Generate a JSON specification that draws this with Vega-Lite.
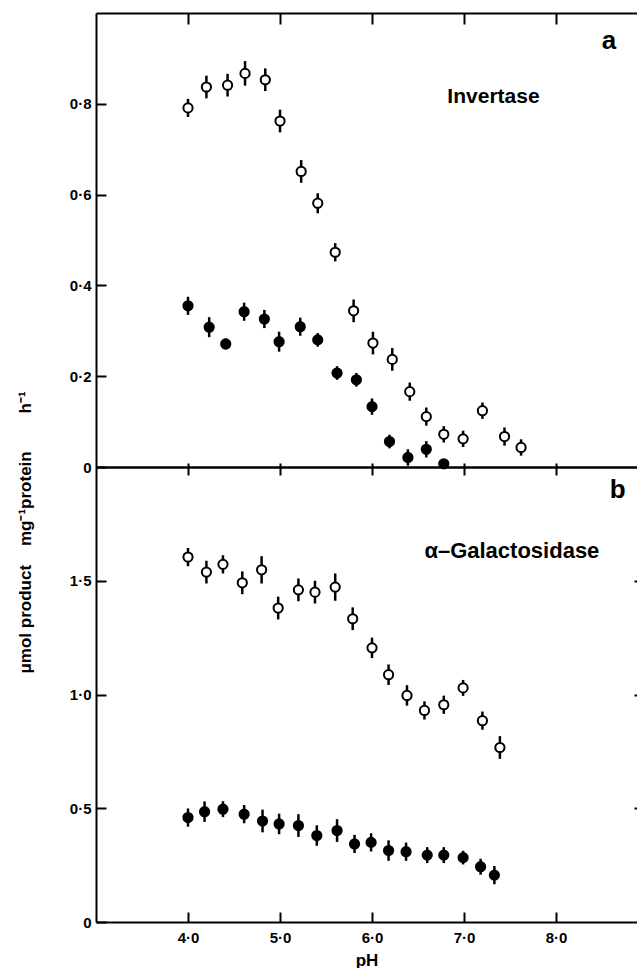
{
  "$schema": "https://vega.github.io/schema/vega-lite/v6.json",
  "padding": {"left": 15, "top": 12, "right": 0, "bottom": 0},
  "spacing": 0,
  "bounds": "flush",
  "config": {
    "view": {"stroke": null},
    "font": "Liberation Sans",
    "axis": {
      "domainColor": "black", "domainWidth": 2, "tickColor": "black", "tickWidth": 2,
      "labelFont": "Liberation Sans", "labelFontWeight": "bold", "labelFontSize": 15, "labelColor": "black",
      "titleFont": "Liberation Sans", "titleFontWeight": "bold", "titleFontSize": 17, "titleColor": "black",
      "grid": false
    }
  },
  "vconcat": [
    {
      "width": 541, "height": 454,
      "data": {"values": [
        {"pH": 4.0, "v": 0.791, "e": 0.02, "s": "open"},
        {"pH": 4.2, "v": 0.837, "e": 0.025, "s": "open"},
        {"pH": 4.43, "v": 0.841, "e": 0.025, "s": "open"},
        {"pH": 4.62, "v": 0.867, "e": 0.027, "s": "open"},
        {"pH": 4.84, "v": 0.853, "e": 0.025, "s": "open"},
        {"pH": 5.0, "v": 0.762, "e": 0.025, "s": "open"},
        {"pH": 5.23, "v": 0.651, "e": 0.025, "s": "open"},
        {"pH": 5.41, "v": 0.581, "e": 0.022, "s": "open"},
        {"pH": 5.6, "v": 0.473, "e": 0.02, "s": "open"},
        {"pH": 5.8, "v": 0.344, "e": 0.025, "s": "open"},
        {"pH": 6.01, "v": 0.273, "e": 0.025, "s": "open"},
        {"pH": 6.22, "v": 0.237, "e": 0.025, "s": "open"},
        {"pH": 6.41, "v": 0.166, "e": 0.02, "s": "open"},
        {"pH": 6.59, "v": 0.111, "e": 0.02, "s": "open"},
        {"pH": 6.78, "v": 0.072, "e": 0.018, "s": "open"},
        {"pH": 6.99, "v": 0.062, "e": 0.018, "s": "open"},
        {"pH": 7.2, "v": 0.124, "e": 0.018, "s": "open"},
        {"pH": 7.44, "v": 0.067, "e": 0.02, "s": "open"},
        {"pH": 7.62, "v": 0.043, "e": 0.018, "s": "open"},
        {"pH": 4.0, "v": 0.355, "e": 0.02, "s": "filled"},
        {"pH": 4.23, "v": 0.308, "e": 0.022, "s": "filled"},
        {"pH": 4.41, "v": 0.271, "e": 0.012, "s": "filled"},
        {"pH": 4.61, "v": 0.342, "e": 0.02, "s": "filled"},
        {"pH": 4.83, "v": 0.326, "e": 0.02, "s": "filled"},
        {"pH": 4.99, "v": 0.276, "e": 0.022, "s": "filled"},
        {"pH": 5.22, "v": 0.309, "e": 0.02, "s": "filled"},
        {"pH": 5.41, "v": 0.28, "e": 0.015, "s": "filled"},
        {"pH": 5.62, "v": 0.207, "e": 0.015, "s": "filled"},
        {"pH": 5.83, "v": 0.192, "e": 0.015, "s": "filled"},
        {"pH": 6.0, "v": 0.133, "e": 0.018, "s": "filled"},
        {"pH": 6.19, "v": 0.056, "e": 0.015, "s": "filled"},
        {"pH": 6.39, "v": 0.021, "e": 0.018, "s": "filled"},
        {"pH": 6.59, "v": 0.039, "e": 0.018, "s": "filled"},
        {"pH": 6.78, "v": 0.007, "e": 0.006, "s": "filled"}
      ]},
      "resolve": {"axis": {"x": "independent", "y": "independent"}},
      "layer": [
        {
          "mark": {"type": "errorbar", "ticks": false, "color": "black", "rule": {"strokeWidth": 2.5}},
          "encoding": {
            "x": {"field": "pH", "type": "quantitative", "scale": {"domain": [3, 8.88], "nice": false, "zero": false},
                  "axis": {"orient": "bottom", "values": [4, 5, 6, 7, 8], "tickSize": -4, "labels": false, "title": null}},
            "y": {"field": "v", "type": "quantitative", "scale": {"domain": [0, 1.0], "nice": false},
                  "axis": {"orient": "left", "values": [0, 0.2, 0.4, 0.6, 0.8], "tickSize": -10, "labelPadding": 15, "title": null,
                           "labelExpr": "datum.value == 0 ? '0' : replace(format(datum.value, '.1f'), '.', '·')"}},
            "yError": {"field": "e"}
          }
        },
        {
          "mark": {"type": "circle", "stroke": "black", "strokeWidth": 2, "size": 85, "opacity": 1},
          "encoding": {
            "x": {"field": "pH", "type": "quantitative",
                  "axis": {"orient": "top", "values": [4, 5, 6, 7, 8], "tickSize": -11, "labels": false, "title": null}},
            "y": {"field": "v", "type": "quantitative", "axis": null},
            "fill": {"field": "s", "type": "nominal", "scale": {"domain": ["open", "filled"], "range": ["white", "black"]}, "legend": null}
          }
        },
        {
          "data": {"values": [
            {"pH": 8.576, "v": 0.938, "t": "a", "fs": 26},
            {"pH": 7.32, "v": 0.816, "t": "Invertase", "fs": 21}
          ]},
          "mark": {"type": "text", "font": "Liberation Sans", "fontWeight": "bold", "align": "center", "baseline": "middle", "color": "black"},
          "encoding": {
            "x": {"field": "pH", "type": "quantitative", "axis": null},
            "y": {"field": "v", "type": "quantitative", "axis": null},
            "text": {"field": "t"},
            "size": {"field": "fs", "type": "quantitative", "scale": null, "legend": null}
          }
        }
      ]
    },
    {
      "width": 541, "height": 455,
      "data": {"values": [
        {"pH": 4.0, "v": 1.604, "e": 0.04, "s": "open"},
        {"pH": 4.2, "v": 1.538, "e": 0.05, "s": "open"},
        {"pH": 4.38, "v": 1.572, "e": 0.04, "s": "open"},
        {"pH": 4.59, "v": 1.491, "e": 0.05, "s": "open"},
        {"pH": 4.8, "v": 1.548, "e": 0.06, "s": "open"},
        {"pH": 4.98, "v": 1.38, "e": 0.05, "s": "open"},
        {"pH": 5.2, "v": 1.46, "e": 0.05, "s": "open"},
        {"pH": 5.38, "v": 1.45, "e": 0.05, "s": "open"},
        {"pH": 5.6, "v": 1.472, "e": 0.06, "s": "open"},
        {"pH": 5.79, "v": 1.333, "e": 0.05, "s": "open"},
        {"pH": 6.0, "v": 1.205, "e": 0.045, "s": "open"},
        {"pH": 6.18, "v": 1.087, "e": 0.045, "s": "open"},
        {"pH": 6.38, "v": 0.996, "e": 0.045, "s": "open"},
        {"pH": 6.57, "v": 0.93, "e": 0.04, "s": "open"},
        {"pH": 6.78, "v": 0.955, "e": 0.04, "s": "open"},
        {"pH": 6.99, "v": 1.029, "e": 0.035, "s": "open"},
        {"pH": 7.2, "v": 0.885, "e": 0.04, "s": "open"},
        {"pH": 7.39, "v": 0.767, "e": 0.05, "s": "open"},
        {"pH": 4.0, "v": 0.459, "e": 0.04, "s": "filled"},
        {"pH": 4.18, "v": 0.485, "e": 0.045, "s": "filled"},
        {"pH": 4.38, "v": 0.496, "e": 0.035, "s": "filled"},
        {"pH": 4.61, "v": 0.474, "e": 0.04, "s": "filled"},
        {"pH": 4.81, "v": 0.444, "e": 0.05, "s": "filled"},
        {"pH": 4.99, "v": 0.431, "e": 0.045, "s": "filled"},
        {"pH": 5.2, "v": 0.424, "e": 0.05, "s": "filled"},
        {"pH": 5.4, "v": 0.38, "e": 0.045, "s": "filled"},
        {"pH": 5.62, "v": 0.402, "e": 0.05, "s": "filled"},
        {"pH": 5.81, "v": 0.343, "e": 0.04, "s": "filled"},
        {"pH": 5.99, "v": 0.35, "e": 0.04, "s": "filled"},
        {"pH": 6.18, "v": 0.314, "e": 0.045, "s": "filled"},
        {"pH": 6.37, "v": 0.309, "e": 0.04, "s": "filled"},
        {"pH": 6.6, "v": 0.294, "e": 0.035, "s": "filled"},
        {"pH": 6.78, "v": 0.294, "e": 0.035, "s": "filled"},
        {"pH": 6.99, "v": 0.283, "e": 0.03, "s": "filled"},
        {"pH": 7.18, "v": 0.243, "e": 0.035, "s": "filled"},
        {"pH": 7.33, "v": 0.206, "e": 0.04, "s": "filled"}
      ]},
      "resolve": {"axis": {"x": "independent", "y": "independent"}},
      "layer": [
        {
          "mark": {"type": "errorbar", "ticks": false, "color": "black", "rule": {"strokeWidth": 2.5}},
          "encoding": {
            "x": {"field": "pH", "type": "quantitative", "scale": {"domain": [3, 8.88], "nice": false, "zero": false},
                  "axis": {"orient": "bottom", "values": [4, 5, 6, 7, 8], "tickSize": -10, "labelPadding": 18, "title": "pH", "titlePadding": 7,
                           "labelExpr": "replace(format(datum.value, '.1f'), '.', '·')"}},
            "y": {"field": "v", "type": "quantitative", "scale": {"domain": [0, 2.0], "nice": false},
                  "axis": {"orient": "left", "values": [0, 0.5, 1.0, 1.5], "tickSize": -10, "labelPadding": 15,
                           "labelExpr": "datum.value == 0 ? '0' : replace(format(datum.value, '.1f'), '.', '·')",
                           "title": "μmol product\u00a0\u00a0\u00a0\u00a0mg⁻¹protein\u00a0\u00a0\u00a0\u00a0\u00a0\u00a0\u00a0\u00a0h⁻¹",
                           "titleX": -71, "titleY": 65, "titleAngle": -90, "titleAlign": "center", "titleBaseline": "middle"}},
            "yError": {"field": "e"}
          }
        },
        {
          "mark": {"type": "circle", "stroke": "black", "strokeWidth": 2, "size": 85, "opacity": 1},
          "encoding": {
            "x": {"field": "pH", "type": "quantitative",
                  "axis": {"orient": "top", "values": [4, 5, 6, 7, 8], "tickSize": -8, "labels": false, "title": null}},
            "y": {"field": "v", "type": "quantitative",
                  "axis": {"orient": "right", "values": [0.5, 1.0, 1.5], "tickSize": -3, "labels": false, "domain": false, "title": null}},
            "fill": {"field": "s", "type": "nominal", "scale": {"domain": ["open", "filled"], "range": ["white", "black"]}, "legend": null}
          }
        },
        {
          "data": {"values": [
            {"pH": 8.67, "v": 1.897, "t": "b", "fs": 26},
            {"pH": 7.52, "v": 1.632, "t": "α–Galactosidase", "fs": 22}
          ]},
          "mark": {"type": "text", "font": "Liberation Sans", "fontWeight": "bold", "align": "center", "baseline": "middle", "color": "black"},
          "encoding": {
            "x": {"field": "pH", "type": "quantitative", "axis": null},
            "y": {"field": "v", "type": "quantitative", "axis": null},
            "text": {"field": "t"},
            "size": {"field": "fs", "type": "quantitative", "scale": null, "legend": null}
          }
        }
      ]
    }
  ]
}
